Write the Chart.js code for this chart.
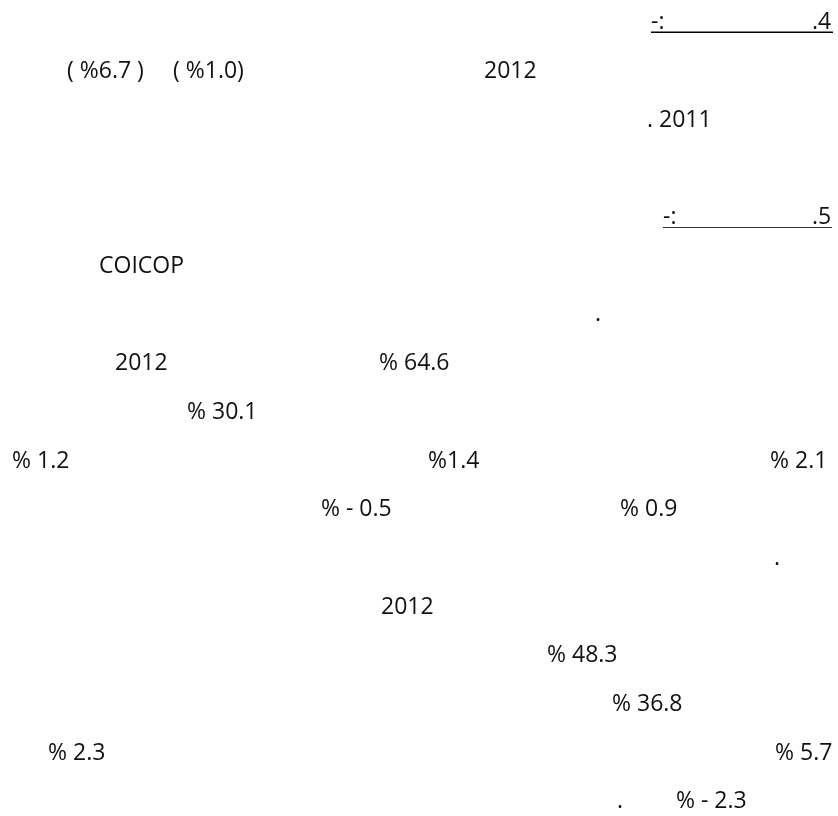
<!DOCTYPE html>
<html>
<head>
<meta charset="utf-8">
<title>Report page</title>
<script src="https://cdn.jsdelivr.net/npm/chart.js@4/dist/chart.umd.min.js"></script>
<style>
  html, body { margin: 0; padding: 0; background: #fff; }
  #page { display: block; }
</style>
</head>
<body>
<canvas id="page" width="838" height="816"></canvas>
<script>
// Values
const sectionNumbers = [4, 5];
const years = [2011, 2012];
const inflationRates = [6.7, 1.0];
const sharesA = [64.6, 30.1, 2.1, 1.4, 1.2, 0.9, -0.5];
const sharesB = [48.3, 36.8, 5.7, 2.3, -2.3];

function pct(v, gap) {
    const sp = gap === false ? '' : ' ';
    if (v < 0) return '%' + sp + '- ' + Math.abs(v).toFixed(1);
    return '%' + sp + v.toFixed(1);
}

// Text fragments: row number on the page, left edge, text
const labels = [
    '-:', '.' + sectionNumbers[0],
    '( ' + pct(inflationRates[0], false) + ' )', '( ' + pct(inflationRates[1], false) + ')', String(years[1]),
    '. ' + years[0],
    '-:', '.' + sectionNumbers[1],
    'COICOP',
    '.',
    String(years[1]), pct(sharesA[0]),
    pct(sharesA[1]),
    pct(sharesA[4]), pct(sharesA[3], false), pct(sharesA[2]),
    pct(sharesA[6]), pct(sharesA[5]),
    '.',
    String(years[1]),
    pct(sharesB[0]),
    pct(sharesB[1]),
    pct(sharesB[3]), pct(sharesB[2]),
    '.', pct(sharesB[4])
];
const labelRows = [0, 0, 1, 1, 1, 2, 4, 4, 5, 6, 7, 7, 8, 9, 9, 9, 10, 10, 11, 12, 13, 14, 15, 15, 16, 16];
const labelLeft = [651, 812, 67, 173, 484, 647, 663, 812, 99, 595, 115, 379, 187, 12, 428, 770, 321, 620, 774, 381, 547, 612, 48, 775, 617, 676];

const FONT_SIZE = 23;

const textPlugin = {
    id: 'pageText',
    afterDatasetsDraw(chart) {
        const ctx = chart.ctx;
        const meta = chart.getDatasetMeta(0);
        ctx.save();
        ctx.fillStyle = '#111';
        ctx.font = FONT_SIZE + 'px "Open Sans"';
        ctx.textAlign = 'left';
        ctx.textBaseline = 'alphabetic';
        meta.data.forEach((pt, i) => {
            ctx.fillText(labels[i], pt.x, pt.y + FONT_SIZE * 0.36);
        });
        ctx.restore();
    }
};

function draw() {
    new Chart(document.getElementById('page'), {
        type: 'scatter',
        data: {
            datasets: [{
                data: labels.map((t, i) => ({ x: labelLeft[i], y: labelRows[i] })),
                pointRadius: 0,
                pointHoverRadius: 0
            }, {
                type: 'line',
                data: [{ x: 651, y: 0.23 }, { x: 833, y: 0.23 }],
                borderColor: '#000',
                borderWidth: 1.5,
                pointRadius: 0
            }, {
                type: 'line',
                data: [{ x: 663, y: 4.24 }, { x: 832, y: 4.24 }],
                borderColor: '#333',
                borderWidth: 1,
                pointRadius: 0
            }]
        },
        options: {
            responsive: false,
            animation: false,
            events: [],
            layout: { padding: 0 },
            plugins: { legend: { display: false }, tooltip: { enabled: false } },
            scales: {
                x: { type: 'linear', min: 0, max: 838, display: false },
                y: { type: 'linear', reverse: true, min: -21 / 48.7, max: (816 - 21) / 48.7, display: false }
            }
        },
        plugins: [textPlugin]
    });
}

document.fonts.load(FONT_SIZE + 'px "Open Sans"').then(draw, draw);
</script>
</body>
</html>
